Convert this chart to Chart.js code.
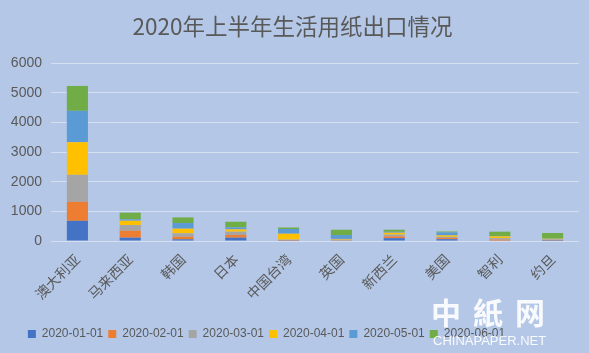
<!DOCTYPE html>
<html>
<head>
<meta charset="utf-8">
<script src="https://cdn.jsdelivr.net/npm/chart.js@4"></script>
<style>
  body { margin: 0; background: #b4c7e7; }
  #wrap { position: relative; width: 589px; height: 353px; background: #b4c7e7; }
  #mark { position: absolute; left: 431px; top: 294px; color: #fff; font-family: "Noto Sans CJK SC"; font-weight: bold; font-size: 30px; letter-spacing: 12px; line-height: 34px; opacity: 0.9; }
  #mark2 { position: absolute; left: 433px; top: 334px; color: #fff; font-family: "Liberation Sans"; font-size: 13px; line-height: 14px; opacity: 0.9; }
</style>
</head>
<body>
<div id="wrap">
  <canvas id="exportChart" width="589" height="353"></canvas>
  <div id="mark">中紙网</div>
  <div id="mark2">CHINAPAPER.NET</div>
</div>
<script>
// categories + monthly values (tons)
const countries = ["澳大利亚", "马来西亚", "韩国", "日本", "中国台湾", "英国", "新西兰", "美国", "智利", "约旦"];
const months = ["2020-01-01", "2020-02-01", "2020-03-01", "2020-04-01", "2020-05-01", "2020-06-01"];
const jan = [680, 112, 56, 112, 10, 15, 95, 60, 15, 5];
const feb = [640, 236, 90, 90, 15, 10, 60, 40, 30, 10];
const mar = [910, 190, 112, 112, 20, 20, 60, 40, 50, 40];
const apr = [1100, 146, 157, 79, 200, 25, 65, 50, 60, 20];
const may = [1057, 45, 190, 67, 160, 130, 30, 100, 10, 5];
const jun = [840, 225, 190, 190, 50, 180, 70, 30, 150, 190];
const yTicks = [0, 1000, 2000, 3000, 4000, 5000, 6000];

const colors = ["#4472c4", "#ed7d31", "#a5a5a5", "#ffc000", "#5b9bd5", "#70ad47"];
const series = [jan, feb, mar, apr, may, jun];

const textColor = "#595959";
const fontFam = "'Liberation Sans', 'Noto Sans CJK SC', sans-serif";

// excel put the legend a bit left of centre, nudge it over
const legendShift = {
  id: "legendShift",
  afterLayout(chart) {
    chart.legend.left -= 26;
    chart.legend.right -= 26;
  },
};

new Chart(document.getElementById("exportChart"), {
  type: "bar",
  data: {
    labels: countries,
    datasets: series.map((vals, i) => ({
      label: months[i],
      data: vals,
      backgroundColor: colors[i],
      borderWidth: 0,
      categoryPercentage: 0.8,
      barPercentage: 0.5,
    })),
  },
  options: {
    responsive: false,
    animation: false,
    layout: { padding: { left: 6, right: 10, top: 0, bottom: 3 } },
    plugins: {
      title: {
        display: true,
        text: "2020年上半年生活用纸出口情况",
        color: textColor,
        font: { family: "'Noto Sans CJK SC', sans-serif", size: 22.5, weight: "normal" },
        padding: { top: 13, bottom: 23 },
      },
      legend: {
        position: "bottom",
        labels: {
          color: textColor,
          font: { family: fontFam, size: 12 },
          boxWidth: 8,
          boxHeight: 8,
          padding: 5,
        },
      },
      tooltip: { enabled: false },
    },
    scales: {
      x: {
        stacked: true,
        grid: { display: false },
        border: { display: false },
        ticks: {
          color: textColor,
          font: { family: "'Noto Sans CJK SC', sans-serif", size: 14 },
          minRotation: 45,
          maxRotation: 45,
          padding: 2,
        },
        afterFit: (scale) => { scale.height = 82; },
      },
      y: {
        stacked: true,
        min: 0,
        max: 6000,
        afterBuildTicks: (scale) => { scale.ticks = yTicks.map((v) => ({ value: v })); },
        grid: { color: "#d6dff0", lineWidth: 1, drawTicks: false },
        border: { display: false },
        ticks: {
          color: textColor,
          font: { family: fontFam, size: 14 },
          padding: 9,
          callback: (v) => String(v),
        },
        afterFit: (scale) => { scale.width = 45; },
      },
    },
  },
  plugins: [legendShift],
});
</script>
</body>
</html>
